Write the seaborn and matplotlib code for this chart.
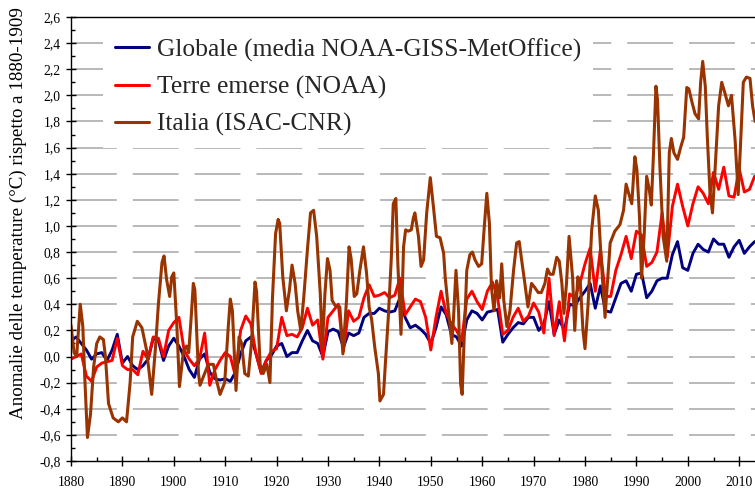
import matplotlib
matplotlib.use("Agg")
import matplotlib.pyplot as plt
import seaborn as sns
import numpy as np
import pandas as pd
from matplotlib.ticker import MultipleLocator, FuncFormatter

# Annual anomalies (°C) relative to 1880-1909
years = list(range(1880, 2014))

globale = [
    0.12, 0.15, 0.10, 0.05, -0.02, 0.02, 0.03, -0.03, 0.05, 0.17,
    -0.05, 0.00, -0.07, -0.10, -0.07, -0.02, 0.14, 0.12, -0.03, 0.08,
    0.14, 0.08, 0.00, -0.10, -0.16, -0.02, 0.02, -0.12, -0.17, -0.18,
    -0.17, -0.19, -0.12, 0.02, 0.12, 0.15, 0.02, -0.12, -0.03, 0.01,
    0.08, 0.10, 0.00, 0.03, 0.03, 0.12, 0.20, 0.12, 0.10, 0.00,
    0.19, 0.21, 0.19, 0.07, 0.18, 0.16, 0.18, 0.30, 0.33, 0.33,
    0.37, 0.35, 0.34, 0.35, 0.45, 0.30, 0.22, 0.24, 0.21, 0.17,
    0.10, 0.22, 0.38, 0.32, 0.17, 0.15, 0.08, 0.28, 0.35, 0.33,
    0.28, 0.34, 0.35, 0.36, 0.11, 0.17, 0.22, 0.26, 0.25, 0.30,
    0.30, 0.20, 0.25, 0.42, 0.17, 0.28, 0.20, 0.40, 0.39, 0.45,
    0.50, 0.56, 0.37, 0.54, 0.35, 0.34, 0.45, 0.56, 0.58, 0.50,
    0.63, 0.64, 0.45, 0.50, 0.58, 0.60, 0.60, 0.78, 0.88, 0.68,
    0.66, 0.79, 0.86, 0.82, 0.80, 0.90, 0.86, 0.86, 0.76, 0.84,
    0.89, 0.79, 0.84, 0.88,
]

terre_emerse = [
    -0.02, 0.00, 0.02, -0.15, -0.19, -0.08, -0.05, -0.04, -0.03, 0.14,
    -0.07, -0.10, -0.10, -0.14, 0.04, -0.02, 0.15, 0.14, 0.00, 0.20,
    0.26, 0.30, 0.05, -0.02, -0.07, -0.02, 0.18, -0.22, -0.10, -0.03,
    0.03, 0.00, -0.15, 0.20, 0.31, 0.25, 0.02, -0.13, -0.03, 0.04,
    0.06, 0.30, 0.16, 0.17, 0.15, 0.22, 0.37, 0.24, 0.28, -0.02,
    0.30, 0.35, 0.40, 0.04, 0.35, 0.27, 0.30, 0.45, 0.55, 0.46,
    0.47, 0.49, 0.45, 0.47, 0.60, 0.32, 0.38, 0.44, 0.42, 0.30,
    0.05, 0.30, 0.50, 0.33, 0.25, 0.20, 0.12, 0.44, 0.50, 0.42,
    0.36, 0.50, 0.57, 0.45, 0.17, 0.20, 0.30, 0.37, 0.27, 0.31,
    0.41, 0.34, 0.18, 0.60, 0.16, 0.42, 0.12, 0.48, 0.45, 0.56,
    0.71, 0.83, 0.50, 0.82, 0.46, 0.46, 0.66, 0.78, 0.92, 0.75,
    0.96, 0.93, 0.69, 0.72, 0.80, 1.10, 0.76, 1.15, 1.32, 1.15,
    1.00, 1.17, 1.30, 1.25, 1.17, 1.41, 1.28, 1.45, 1.23, 1.22,
    1.44, 1.26, 1.28, 1.38,
]

# Italian series: sampled at its turning points (fractional years)
italia_t = [
    1880.0, 1880.6, 1881.1, 1881.8, 1882.3, 1882.7, 1883.2, 1883.8, 1884.4, 1885.0,
    1885.6, 1886.3, 1886.7, 1887.3, 1888.2, 1889.2, 1890.0, 1890.8, 1891.5, 1892.0,
    1892.9, 1893.8, 1894.7, 1895.7, 1896.4, 1897.0, 1897.7, 1898.1, 1898.6, 1899.2,
    1899.6, 1900.0, 1900.6, 1901.1, 1901.9, 1902.5, 1902.9, 1903.4, 1903.8, 1904.1,
    1904.8, 1905.1, 1906.0, 1906.7, 1907.7, 1908.3, 1909.0, 1909.9, 1910.6, 1911.0,
    1911.4, 1912.1, 1912.7, 1913.2, 1913.8, 1914.5, 1915.1, 1915.8, 1916.1, 1916.8,
    1917.4, 1918.1, 1918.7, 1919.2, 1919.8, 1920.3, 1920.6, 1921.2, 1921.9, 1922.5,
    1923.0, 1923.6, 1924.1, 1924.7, 1925.3, 1926.0, 1926.6, 1927.2, 1927.8, 1928.5,
    1928.9, 1929.4, 1929.9, 1930.4, 1930.8, 1931.4, 1932.3, 1932.9, 1933.6, 1934.1,
    1934.5, 1935.1, 1935.6, 1936.2, 1936.9, 1937.5, 1938.0, 1938.5, 1939.1, 1939.8,
    1940.1, 1940.8, 1941.2, 1941.7, 1942.3, 1942.7, 1943.2, 1943.6, 1944.2, 1944.7,
    1945.1, 1945.6, 1946.2, 1946.6, 1946.9, 1947.6, 1948.1, 1948.6, 1949.2, 1949.9,
    1950.5, 1951.1, 1951.8, 1952.5, 1952.8, 1953.5, 1954.1, 1954.4, 1954.9, 1955.4,
    1955.8, 1956.1, 1956.5, 1957.0, 1957.6, 1958.1, 1958.6, 1959.3, 1959.9, 1960.4,
    1960.9, 1961.4, 1961.8, 1962.3, 1962.8, 1963.4, 1963.8, 1964.2, 1964.8, 1965.4,
    1966.1, 1966.7, 1967.2, 1967.6, 1968.3, 1968.9, 1969.6, 1970.2, 1970.9, 1971.5,
    1972.2, 1972.7, 1973.2, 1973.8, 1974.5, 1975.0, 1975.5, 1975.9, 1976.4, 1976.9,
    1977.6, 1978.0, 1978.6, 1979.1, 1979.6, 1980.0, 1980.6, 1981.3, 1982.0, 1982.6,
    1983.2, 1983.9, 1984.3, 1984.9, 1985.8, 1986.8, 1987.5, 1988.0, 1988.5, 1989.1,
    1989.7, 1990.1, 1990.6, 1991.0, 1991.5, 1992.0, 1992.5, 1992.9, 1993.3, 1993.8,
    1994.1, 1994.6, 1995.2, 1995.9, 1996.4, 1996.8, 1997.3, 1998.0, 1998.6, 1999.2,
    1999.8, 2000.2, 2000.8, 2001.4, 2002.1, 2002.5, 2002.9, 2003.4, 2003.8, 2004.3,
    2004.8, 2005.3, 2006.0, 2006.6, 2007.2, 2007.9, 2008.5, 2009.2, 2009.8, 2010.3,
    2010.8, 2011.4, 2012.1, 2012.6, 2013.1,
]
italia = [
    0.24, 0.03, 0.00, 0.40, 0.23, -0.18, -0.62, -0.44, -0.08, 0.10,
    0.15, 0.13, 0.00, -0.36, -0.47, -0.50, -0.47, -0.50, -0.20, 0.15,
    0.27, 0.22, 0.05, -0.29, 0.05, 0.40, 0.72, 0.77, 0.59, 0.46,
    0.61, 0.64, 0.23, -0.23, 0.05, 0.08, 0.03, 0.31, 0.56, 0.51,
    -0.13, -0.22, -0.13, -0.06, -0.06, -0.18, -0.29, -0.20, 0.23, 0.44,
    0.35, -0.26, 0.15, 0.10, -0.13, -0.15, 0.10, 0.57, 0.50, -0.06,
    -0.13, -0.06, -0.20, 0.45, 0.94, 1.05, 1.02, 0.61, 0.35, 0.51,
    0.70, 0.56, 0.35, 0.20, 0.46, 0.82, 1.10, 1.12, 0.92, 0.48,
    0.07, 0.48, 0.75, 0.66, 0.43, 0.39, 0.38, 0.02, 0.43, 0.84,
    0.75, 0.46, 0.48, 0.66, 0.84, 0.64, 0.38, 0.28, 0.07, -0.13,
    -0.34, -0.29, -0.03, 0.28, 0.74, 1.17, 1.21, 0.70, 0.17, 0.84,
    0.97, 0.96, 0.97, 1.06, 1.10, 0.92, 0.69, 0.74, 1.10, 1.37,
    1.15, 0.92, 0.91, 0.79, 0.61, 0.33, 0.10, 0.28, 0.66, 0.35,
    -0.21, -0.29, 0.15, 0.66, 0.78, 0.80, 0.74, 0.69, 0.71, 0.99,
    1.25, 1.02, 0.53, 0.35, 0.58, 0.45, 0.71, 0.43, 0.23, 0.35,
    0.66, 0.87, 0.88, 0.76, 0.56, 0.38, 0.56, 0.53, 0.49, 0.49,
    0.56, 0.67, 0.63, 0.63, 0.76, 0.73, 0.56, 0.33, 0.56, 0.92,
    0.60, 0.20, 0.61, 0.56, 0.20, 0.06, 0.40, 0.97, 1.23, 1.12,
    0.71, 0.30, 0.53, 0.87, 0.96, 1.01, 1.12, 1.32, 1.25, 1.17,
    1.53, 1.43, 1.07, 0.60, 0.92, 1.38, 1.28, 1.16, 1.53, 2.07,
    1.97, 1.43, 0.92, 0.73, 1.56, 1.67, 1.56, 1.51, 1.60, 1.68,
    2.06, 2.05, 1.95, 1.86, 1.82, 2.10, 2.26, 2.07, 1.68, 1.27,
    1.10, 1.43, 1.92, 2.10, 2.02, 1.92, 2.00, 1.66, 1.24, 1.66,
    2.10, 2.14, 2.13, 1.92, 1.80,
]

labels = ["Globale (media NOAA-GISS-MetOffice)", "Terre emerse (NOAA)", "Italia (ISAC-CNR)"]
colors = ["#000080", "#FF0000", "#993300"]
y_ticks = np.round(np.arange(-0.8, 2.61, 0.2), 1)
x_ticks = list(range(1880, 2011, 10))

sns.set_theme(style="white")
plt.rcParams["font.family"] = ["Liberation Serif", "DejaVu Serif"]
plt.rcParams["lines.scale_dashes"] = False

fig = plt.figure(figsize=(7.55, 4.90), dpi=100)
ax = fig.add_axes([71 / 755, 29 / 490, 684 / 755, 444 / 490])

df_g = pd.DataFrame({"anno": years, "val": globale})
df_t = pd.DataFrame({"anno": years, "val": terre_emerse})
df_i = pd.DataFrame({"anno": italia_t, "val": italia})

sns.lineplot(data=df_g, x="anno", y="val", color=colors[0], lw=2.1, ax=ax, label=labels[0])
sns.lineplot(data=df_t, x="anno", y="val", color=colors[1], lw=2.1, ax=ax, label=labels[1])
sns.lineplot(data=df_i, x="anno", y="val", color=colors[2], lw=2.2, ax=ax, label=labels[2])

ax.set_xlim(1880, 1880 + 684 / 5.14)
ax.set_ylim(-0.8, 2.6)
ax.set_xlabel("")
ax.set_ylabel("")

ax.set_xticks(x_ticks)
ax.set_xticklabels([str(x) for x in x_ticks])
ax.xaxis.set_minor_locator(MultipleLocator(5))
ax.set_yticks(y_ticks)
ax.yaxis.set_major_formatter(FuncFormatter(lambda v, p: f"{v:.1f}".replace(".", ",").replace("-0,0", "0,0")))
ax.yaxis.set_minor_locator(MultipleLocator(0.1))

ax.tick_params(axis="both", which="major", direction="inout", length=7, width=1.0,
               color="black", labelsize=9.8, labelcolor="black")
ax.tick_params(axis="x", which="major", pad=7)
ax.tick_params(axis="y", which="major", pad=4)
ax.tick_params(axis="both", which="minor", direction="in", length=3, width=1.0, color="black")
ax.tick_params(left=True, bottom=True, which="both")

# dashed horizontal reference lines
for v in y_ticks[1:-1]:
    ax.axhline(v, color="#a6a6a6", lw=1.1, linestyle=(0, (33, 11.5)), zorder=0)

for side in ["left", "bottom", "top"]:
    ax.spines[side].set_visible(True)
    ax.spines[side].set_color("black")
    ax.spines[side].set_linewidth(1.0)
ax.spines["right"].set_visible(False)

leg = ax.legend(loc="upper left", bbox_to_anchor=(0.047, 0.978), fontsize=18.4,
                frameon=True, fancybox=False, handlelength=1.35, handletextpad=0.3,
                labelspacing=0.55, borderpad=0.45, borderaxespad=0)
leg.get_frame().set_facecolor("white")
leg.get_frame().set_edgecolor("none")
leg.get_frame().set_alpha(1)
for line in leg.get_lines():
    line.set_linewidth(2.2)

fig.text(18 / 755, 1 - 419 / 490, "Anomalie delle temperature (°C) rispetto a 1880-1909",
         rotation=90, ha="center", va="bottom", fontsize=13.7, color="black")

fig.savefig("out.png", dpi=100)
